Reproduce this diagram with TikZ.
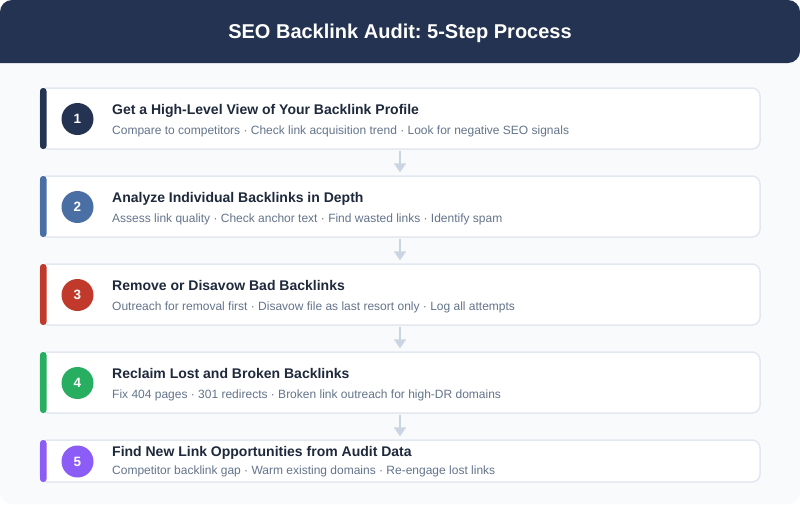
\documentclass[tikz,border=0pt]{standalone}
\usepackage{fontspec}
\setmainfont{Liberation Sans}
\usetikzlibrary{arrows.meta}
\frenchspacing

\definecolor{navy}{HTML}{243352}
\definecolor{pagebg}{HTML}{F8FAFC}
\definecolor{cardline}{HTML}{E2E8F0}
\definecolor{arrowgray}{HTML}{CBD5E1}
\definecolor{titletext}{HTML}{1E293B}
\definecolor{subtext}{HTML}{64748B}
\definecolor{stepblue}{HTML}{4A6FA5}
\definecolor{stepred}{HTML}{C0392B}
\definecolor{stepgreen}{HTML}{27AE60}
\definecolor{steppurple}{HTML}{8B5CF6}

\begin{document}
\begin{tikzpicture}[x=1pt,y=-1pt]
\tikzstyle{every node}+=[inner sep=0pt]
\tikzstyle{card}=[draw=cardline, line width=1.5pt, fill=white, rounded corners=8pt, minimum width=720pt]
\tikzstyle{badge}=[circle, minimum size=32pt, text=white, font=\fontsize{13.5}{16}\selectfont\bfseries]
\tikzstyle{steptitle}=[anchor=base west, text=titletext, font=\fontsize{14}{17}\selectfont\bfseries]
\tikzstyle{stepsub}=[anchor=base west, text=subtext, font=\fontsize{12}{14}\selectfont]
\tikzstyle{flow}=[draw=arrowgray, line width=2pt, -{Triangle[width=12pt,length=9pt]}, shorten <=1pt, shorten >=3pt]
\useasboundingbox (0,0) rectangle (800,504);
\fill [white] (0,0) rectangle (800,504);
% page and header
\fill [pagebg, rounded corners=12pt] (0,0) rectangle (800,504);
\fill [navy, rounded corners=12pt] (0,63) -- (0,0) -- (800,0) -- (800,63) [sharp corners] -- cycle;
\node [text=white, font=\fontsize{20}{24}\selectfont\bfseries] (head) at (400,33) {SEO Backlink Audit: 5-Step Process};
% step 1
\node [card, minimum height=61pt] (c1) at (400,118.5) {};
\fill [navy, rounded corners=3pt] (40,88) rectangle (46.5,149);
\node [badge, fill=navy] (b1) at (77.5,119) {1};
\node [steptitle] (t1) at (112,114) {Get a High-Level View of Your Backlink Profile};
\node [stepsub] (s1) at (112,134) {Compare to competitors · Check link acquisition trend · Look for negative SEO signals};
% step 2
\node [card, minimum height=61pt] (c2) at (400,206.5) {};
\fill [stepblue, rounded corners=3pt] (40,176) rectangle (46.5,237);
\node [badge, fill=stepblue] (b2) at (77.5,207) {2};
\node [steptitle] (t2) at (112,202) {Analyze Individual Backlinks in Depth};
\node [stepsub] (s2) at (112,222) {Assess link quality · Check anchor text · Find wasted links · Identify spam};
% step 3
\node [card, minimum height=61pt] (c3) at (400,294.5) {};
\fill [stepred, rounded corners=3pt] (40,264) rectangle (46.5,325);
\node [badge, fill=stepred] (b3) at (77.5,295) {3};
\node [steptitle] (t3) at (112,290) {Remove or Disavow Bad Backlinks};
\node [stepsub] (s3) at (112,310) {Outreach for removal first · Disavow file as last resort only · Log all attempts};
% step 4
\node [card, minimum height=61pt] (c4) at (400,382.5) {};
\fill [stepgreen, rounded corners=3pt] (40,352) rectangle (46.5,413);
\node [badge, fill=stepgreen] (b4) at (77.5,383) {4};
\node [steptitle] (t4) at (112,378) {Reclaim Lost and Broken Backlinks};
\node [stepsub] (s4) at (112,398) {Fix 404 pages · 301 redirects · Broken link outreach for high-DR domains};
% step 5
\node [card, minimum height=42pt] (c5) at (400,461) {};
\fill [steppurple, rounded corners=3pt] (40,440) rectangle (46.5,482);
\node [badge, fill=steppurple] (b5) at (77.5,461.5) {5};
\node [steptitle] (t5) at (112,456) {Find New Link Opportunities from Audit Data};
\node [stepsub] (s5) at (112,474.5) {Competitor backlink gap · Warm existing domains · Re-engage lost links};
% arrows
\draw [flow] (c1.south) -- (c2.north);
\draw [flow] (c2.south) -- (c3.north);
\draw [flow] (c3.south) -- (c4.north);
\draw [flow] (c4.south) -- (c5.north);
\end{tikzpicture}
\end{document}
